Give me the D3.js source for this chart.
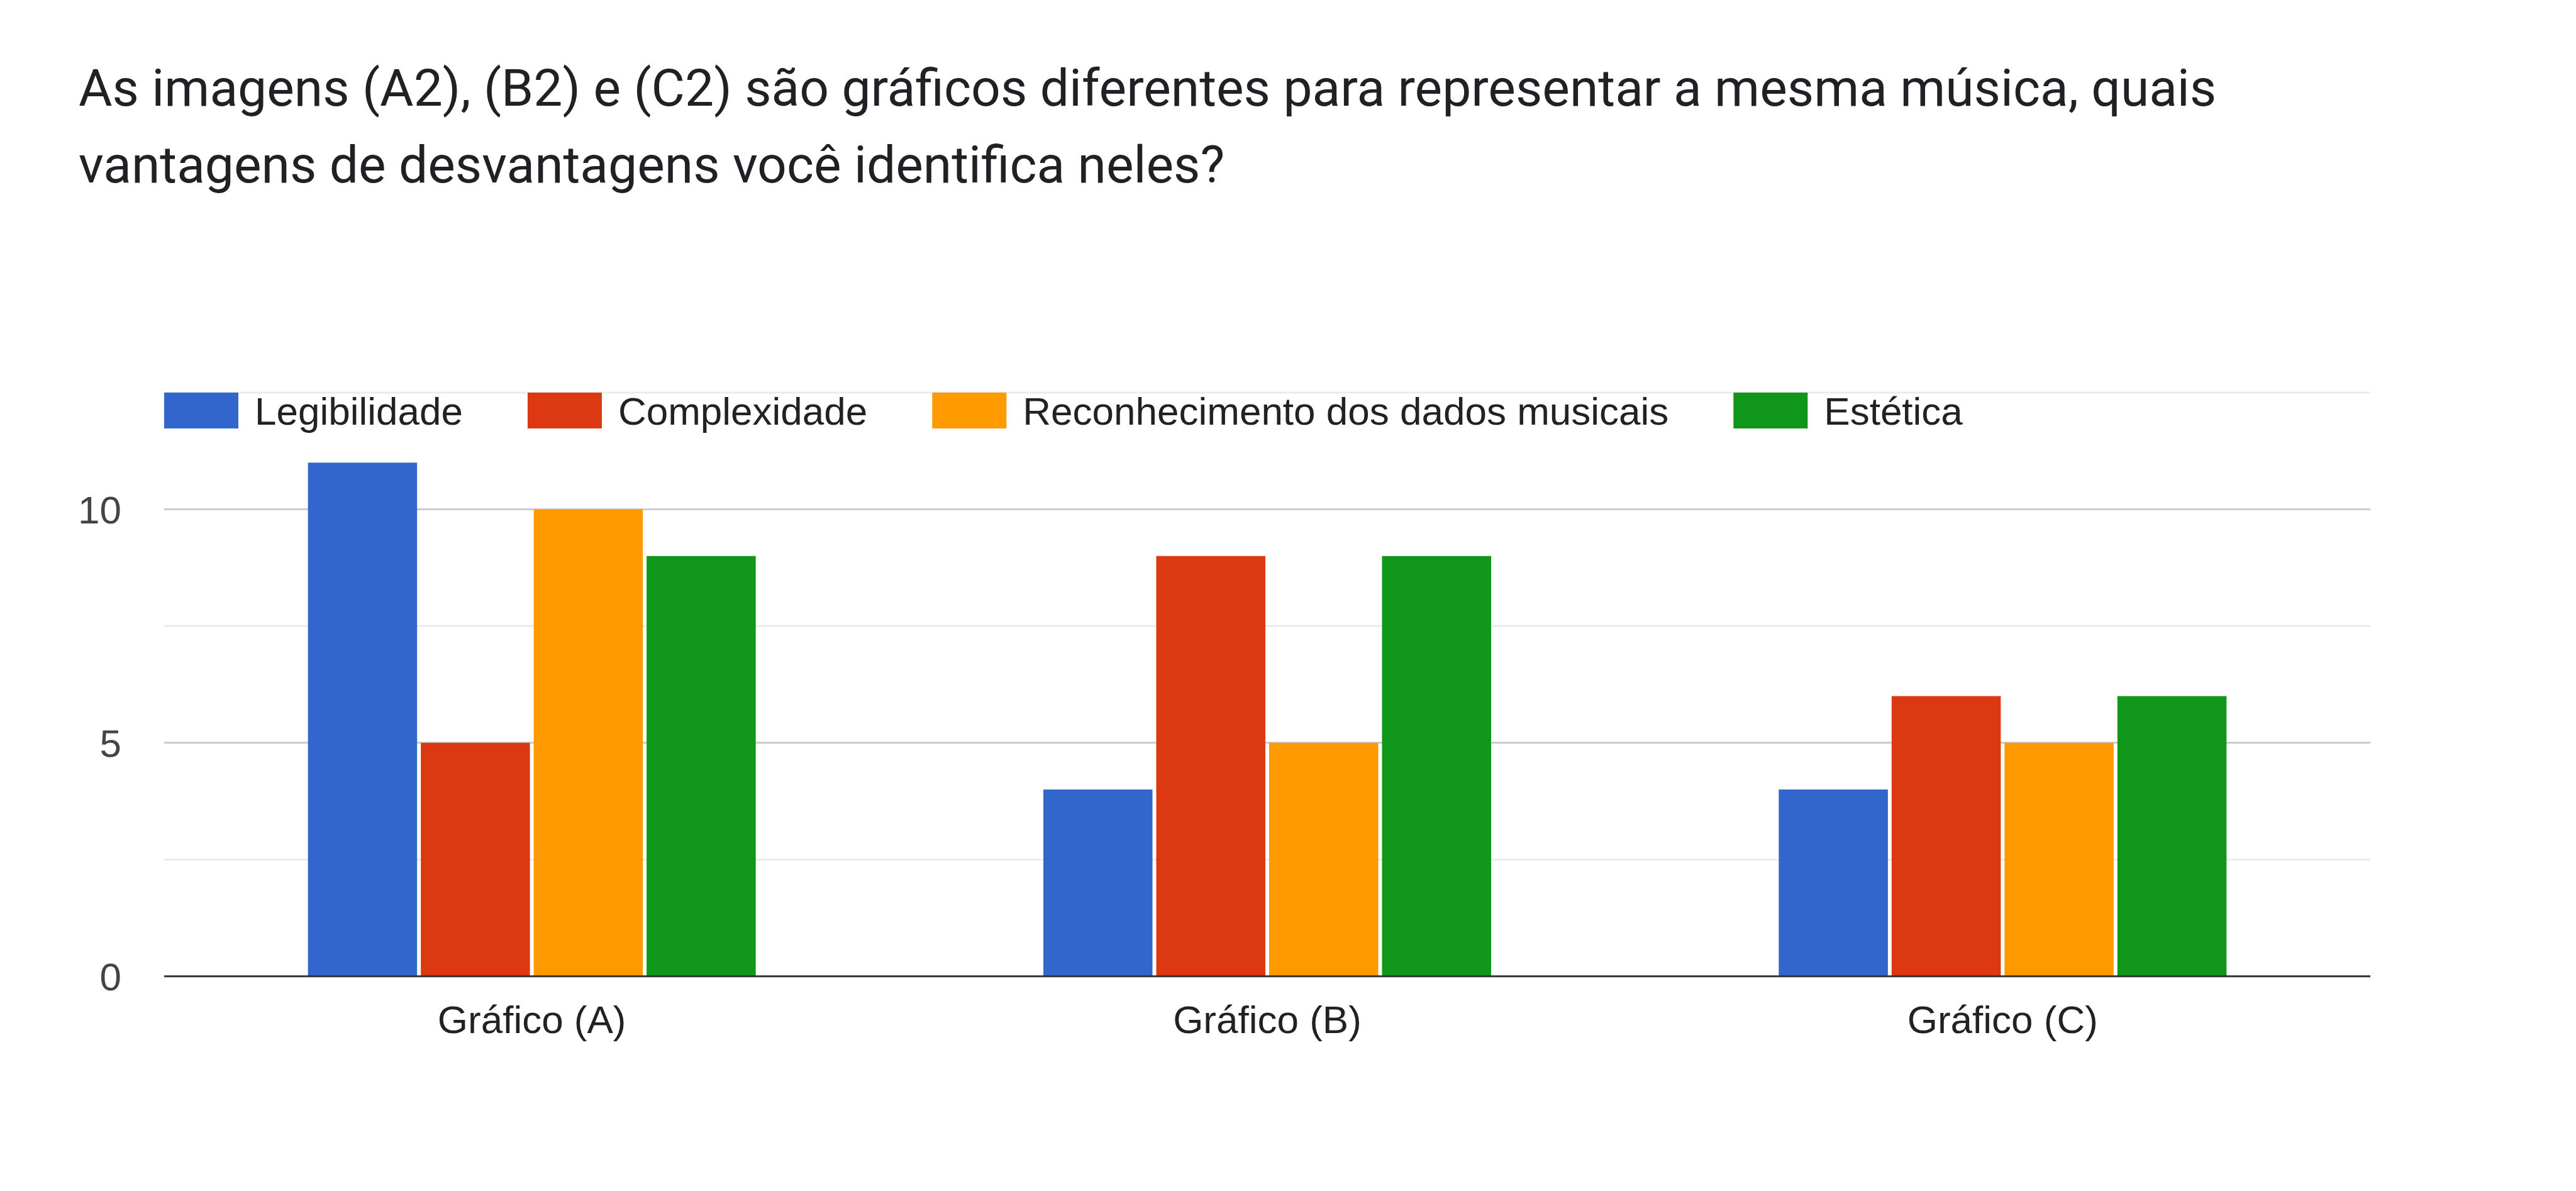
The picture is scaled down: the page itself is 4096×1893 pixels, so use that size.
<!DOCTYPE html>
<html><head><meta charset="utf-8">
<script src="https://cdn.jsdelivr.net/npm/d3@7"></script>
<style>html,body{margin:0;padding:0;background:#fff;overflow:hidden}</style>
</head><body>
<script>
const titleLines = ["As imagens (A2), (B2) e (C2) são gráficos diferentes para representar a mesma música, quais",
                    "vantagens de desvantagens você identifica neles?"];
const categories = ["Gráfico (A)", "Gráfico (B)", "Gráfico (C)"];
const seriesNames = ["Legibilidade", "Complexidade", "Reconhecimento dos dados musicais", "Estética"];
const legibilidade = [11, 4, 4];
const complexidade = [5, 9, 6];
const reconhecimento = [10, 5, 5];
const estetica = [9, 9, 6];
const colors = ["#3366cc", "#dc3912", "#ff9900", "#109618"];
const majorTicks = [0, 5, 10];
const minorTicks = [2.5, 7.5, 12.5];

const series = [legibilidade, complexidade, reconhecimento, estetica];
const W = 4096, H = 1893;
const svg = d3.select("body").append("svg").attr("width", W).attr("height", H);
svg.append("rect").attr("width", W).attr("height", H).attr("fill", "#fff");

// Title
const titles = svg.append("g").selectAll("text").data(titleLines).join("text")
  .attr("x", 125).attr("y", (d, i) => 168 + i * 122)
  .attr("font-family", "Roboto, 'Noto Sans', sans-serif").attr("font-size", 73)
  .attr("fill", "#202124").text(d => d);
const w1 = titles.nodes()[0].getComputedTextLength();
const fs = Math.min(90, 73 * 3400 / w1);
titles.attr("font-size", fs);

const left = 261, right = 3769;
const y = d3.scaleLinear().domain([0, 12.5]).range([1551.7, 624]);
const x0 = d3.scaleBand().domain(categories).range([left, right]).paddingInner(0).paddingOuter(0);
const groupW = x0.bandwidth() * 0.614;
const x1 = d3.scaleBand().domain(d3.range(series.length)).range([0, groupW]).padding(0);

// grid
svg.append("g").selectAll("line").data(minorTicks).join("line")
  .attr("x1", left).attr("x2", right).attr("y1", d => y(d)).attr("y2", d => y(d))
  .attr("stroke", "#ebebeb").attr("stroke-width", 3);
svg.append("g").selectAll("line").data(majorTicks.filter(d => d > 0)).join("line")
  .attr("x1", left).attr("x2", right).attr("y1", d => y(d)).attr("y2", d => y(d))
  .attr("stroke", "#cccccc").attr("stroke-width", 3);

// y labels
svg.append("g").selectAll("text").data(majorTicks).join("text")
  .attr("x", 193).attr("y", d => y(d)).attr("dy", "0.36em")
  .attr("text-anchor", "end")
  .attr("font-family", "Arial, 'Liberation Sans', sans-serif").attr("font-size", 62)
  .attr("fill", "#444").text(d => d);

// bars
const gap = 6;
const groups = svg.append("g").selectAll("g").data(categories).join("g")
  .attr("transform", c => `translate(${x0(c) + (x0.bandwidth() - groupW) / 2},0)`);
groups.selectAll("rect").data((c, ci) => series.map((s, si) => ({si, v: s[ci]}))).join("rect")
  .attr("x", d => x1(d.si) + gap / 2)
  .attr("width", x1.bandwidth() - gap)
  .attr("y", d => y(d.v))
  .attr("height", d => y(0) - y(d.v))
  .attr("fill", d => colors[d.si]);

// baseline
svg.append("line").attr("x1", left).attr("x2", right).attr("y1", y(0)).attr("y2", y(0))
  .attr("stroke", "#333").attr("stroke-width", 3);

// x labels
svg.append("g").selectAll("text").data(categories).join("text")
  .attr("x", c => x0(c) + x0.bandwidth() / 2).attr("y", 1642)
  .attr("text-anchor", "middle")
  .attr("font-family", "Arial, 'Liberation Sans', sans-serif").attr("font-size", 62)
  .attr("fill", "#222").text(c => c);

// legend
const lg = svg.append("g");
let lx = left;
seriesNames.forEach((name, i) => {
  lg.append("rect").attr("x", lx).attr("y", 624).attr("width", 118).attr("height", 57).attr("fill", colors[i]);
  const t = lg.append("text").attr("x", lx + 144).attr("y", 653).attr("dy", "0.36em")
    .attr("font-family", "Arial, 'Liberation Sans', sans-serif").attr("font-size", 62)
    .attr("fill", "#222").text(name);
  lx = lx + 144 + t.node().getComputedTextLength() + 103;
});
</script>
</body></html>
